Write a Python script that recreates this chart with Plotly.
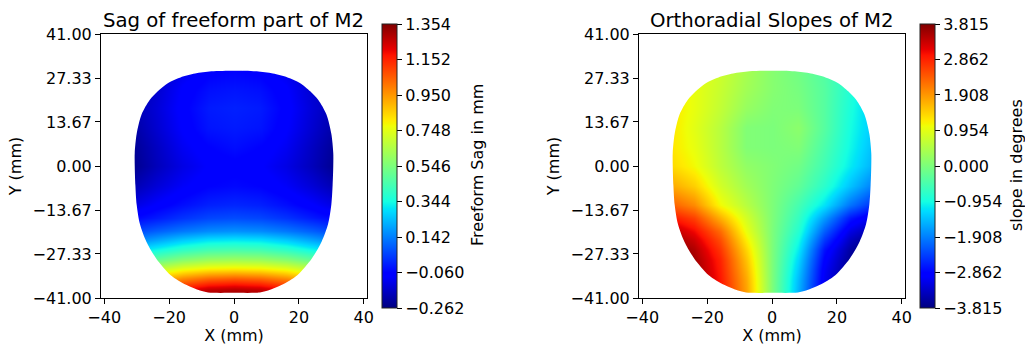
import numpy as np
import plotly.graph_objects as go

# ---------------- data ----------------
grid_x = [-32, -24, -16, -8, 0, 8, 16, 24, 32]
grid_y = [-41, -38, -35, -32, -29, -26, -23, -20, -16, -12, -6, 0, 6, 12, 18, 24, 30]

sag_mm = [
    [1.00, 1.15, 1.28, 1.33, 1.35, 1.33, 1.28, 1.15, 1.00],
    [0.95, 1.05, 1.18, 1.25, 1.27, 1.25, 1.18, 1.05, 0.95],
    [0.80, 0.88, 0.98, 1.04, 1.06, 1.04, 0.98, 0.88, 0.80],
    [0.60, 0.68, 0.76, 0.80, 0.81, 0.80, 0.76, 0.68, 0.60],
    [0.42, 0.50, 0.57, 0.61, 0.62, 0.61, 0.57, 0.50, 0.42],
    [0.28, 0.34, 0.40, 0.44, 0.45, 0.44, 0.40, 0.34, 0.28],
    [0.14, 0.20, 0.26, 0.30, 0.31, 0.30, 0.26, 0.20, 0.14],
    [0.04, 0.09, 0.13, 0.16, 0.17, 0.16, 0.13, 0.09, 0.04],
    [-0.06, -0.02, 0.02, 0.05, 0.06, 0.05, 0.02, -0.02, -0.06],
    [-0.13, -0.08, -0.04, -0.01, 0.00, -0.01, -0.04, -0.08, -0.13],
    [-0.20, -0.14, -0.09, -0.06, -0.05, -0.06, -0.09, -0.14, -0.20],
    [-0.25, -0.18, -0.12, -0.08, -0.07, -0.08, -0.12, -0.18, -0.25],
    [-0.24, -0.17, -0.10, -0.06, -0.04, -0.06, -0.10, -0.17, -0.24],
    [-0.22, -0.15, -0.08, -0.03, -0.02, -0.03, -0.08, -0.15, -0.22],
    [-0.20, -0.14, -0.07, -0.02, -0.01, -0.02, -0.07, -0.14, -0.20],
    [-0.20, -0.15, -0.08, -0.04, -0.03, -0.04, -0.08, -0.15, -0.20],
    [-0.22, -0.17, -0.11, -0.07, -0.06, -0.07, -0.11, -0.17, -0.22],
]

slope_deg = [
    [4.00, 3.70, 3.05, 1.85, 0.00, -1.55, -3.15, -3.80, -4.00],
    [4.00, 3.70, 3.00, 1.80, 0.00, -1.50, -3.10, -3.80, -4.00],
    [4.00, 3.70, 2.95, 1.75, 0.00, -1.45, -3.05, -3.80, -4.00],
    [4.00, 3.65, 2.90, 1.65, 0.00, -1.35, -3.00, -3.75, -4.00],
    [4.00, 3.60, 2.85, 1.55, 0.00, -1.25, -2.90, -3.70, -4.00],
    [3.90, 3.50, 2.70, 1.40, 0.00, -1.10, -2.75, -3.60, -4.00],
    [3.70, 3.30, 2.50, 1.20, 0.00, -0.95, -2.45, -3.40, -3.90],
    [3.50, 3.05, 2.25, 1.00, 0.00, -0.80, -2.15, -3.15, -3.60],
    [3.00, 2.60, 1.70, 0.80, 0.02, -0.65, -1.70, -2.70, -3.20],
    [2.40, 2.00, 1.10, 0.55, 0.02, -0.50, -1.15, -2.00, -2.60],
    [1.80, 1.45, 0.80, 0.35, 0.03, -0.25, -0.75, -1.40, -2.00],
    [1.40, 1.10, 0.60, 0.20, 0.05, -0.10, -0.55, -1.10, -1.60],
    [1.30, 1.00, 0.55, 0.05, 0.00, 0.05, -0.45, -1.00, -1.50],
    [1.30, 0.95, 0.55, 0.05, 0.00, 0.15, -0.35, -0.95, -1.40],
    [1.30, 1.00, 0.65, 0.25, 0.05, 0.00, -0.35, -0.90, -1.40],
    [1.30, 1.00, 0.70, 0.35, 0.10, -0.05, -0.35, -0.85, -1.40],
    [1.30, 1.00, 0.75, 0.40, 0.10, -0.10, -0.40, -0.85, -1.40],
]

# aperture outline of M2 (clockwise, starting at top centre)
outline_x = [0, 7, 12, 16.5, 20.3, 23.5, 26, 28.5, 30, 30.6, 30.6, 30.4, 30, 29, 27, 24,
             19.5, 14.6, 10.5, 8, 0, -8, -10.5, -14.6, -19.5, -24, -27, -29, -30, -30.4,
             -30.6, -30.6, -30, -28.5, -26, -23.5, -20.3, -16.5, -12, -7]
outline_y = [29.6, 29.4, 28.7, 27.5, 25.8, 23.2, 20.5, 16, 10, 4, 0, -6, -12, -18, -23.5, -28.7,
             -33.9, -37, -38.7, -39.3, -39.4, -39.3, -38.7, -37, -33.9, -28.7, -23.5, -18, -12, -6,
             0, 4, 10, 16, 20.5, 23.2, 25.8, 27.5, 28.7, 29.4]

axis_ticks_x = [-40, -20, 0, 20, 40]
axis_ticks_y = [-41.0, -27.33, -13.67, 0.0, 13.67, 27.33, 41.0]

sag_range = [-0.262, 1.354]
sag_ticks = [-0.262, -0.060, 0.142, 0.344, 0.546, 0.748, 0.950, 1.152, 1.354]
slope_range = [-3.815, 3.815]
slope_ticks = [-3.815, -2.862, -1.908, -0.954, 0.000, 0.954, 1.908, 2.862, 3.815]

titles = ["Sag of freeform part of M2", "Orthoradial Slopes of M2"]
cbar_titles = ["Freeform Sag in mm", "slope in degrees"]

# ---------------- style ----------------
W, H = 1025, 345
FONT = "DejaVu Sans"
FS = 16
FS_TITLE = 19.7


def mpl_jet():
    r = [(0, 0), (0.35, 0), (0.66, 1), (0.89, 1), (1, 0.5)]
    g = [(0, 0), (0.125, 0), (0.375, 1), (0.64, 1), (0.91, 0), (1, 0)]
    b = [(0, 0.5), (0.11, 1), (0.34, 1), (0.65, 0), (1, 0)]
    stops = sorted(set([p[0] for p in r + g + b]))
    cs = []
    for s in stops:
        cr = np.interp(s, [p[0] for p in r], [p[1] for p in r])
        cg = np.interp(s, [p[0] for p in g], [p[1] for p in g])
        cb = np.interp(s, [p[0] for p in b], [p[1] for p in b])
        cs.append([s, "rgb(%d,%d,%d)" % (round(cr * 255), round(cg * 255), round(cb * 255))])
    return cs


JET = mpl_jet()


def fmt(v, nd):
    s = ("%." + str(nd) + "f") % abs(v)
    return ("\u2212" + s) if v < 0 else s


def px_x(p):
    return p / W


def px_y(p):
    return (H - p) / H


xdom1 = [px_x(101), px_x(367)]
xdom2 = [px_x(639), px_x(905)]
ydom = [px_y(298), px_y(34)]
axis_range = [-41, 41]

fig = go.Figure()

panels = [
    dict(z=sag_mm, rng=sag_range, ticks=sag_ticks, xa="x", ya="y", cbx=382, dom=xdom1),
    dict(z=slope_deg, rng=slope_range, ticks=slope_ticks, xa="x2", ya="y2", cbx=920, dom=xdom2),
]

# outer box of the white mask (counter-clockwise, with extra points on each side)
big = 80
box_x = [-big, 0, big, big, big, 0, -big, -big, -big]
box_y = [-big, -big, -big, 0, big, big, big, 0, -big]

for i, p in enumerate(panels):
    fig.add_trace(go.Heatmap(
        x=grid_x, y=grid_y, z=p["z"], xaxis=p["xa"], yaxis=p["ya"],
        zmin=p["rng"][0], zmax=p["rng"][1], colorscale=JET, zsmooth="best",
        hoverinfo="skip",
        colorbar=dict(
            x=px_x(p["cbx"]), xanchor="left", xpad=0, ypad=0,
            y=px_y(308), yanchor="bottom", len=284 / H, lenmode="fraction",
            thickness=15, thicknessmode="pixels",
            outlinewidth=1, outlinecolor="#222",
            tickmode="array", tickvals=p["ticks"], ticktext=[fmt(t, 3) for t in p["ticks"]],
            ticks="outside", ticklen=5, tickwidth=1, tickcolor="black",
            tickfont=dict(family=FONT, size=FS, color="black"),
        ),
    ))
    # white mask outside the aperture outline
    mx = box_x + [None] + outline_x + [outline_x[0]]
    my = box_y + [None] + outline_y + [outline_y[0]]
    fig.add_trace(go.Scatter(
        x=mx, y=my, xaxis=p["xa"], yaxis=p["ya"], mode="lines", fill="toself",
        fillcolor="white", line=dict(width=0, color="white", shape="spline", smoothing=0.8),
        hoverinfo="skip", showlegend=False,
    ))

axis_common = dict(
    range=axis_range, showline=True, mirror=True, linecolor="black", linewidth=1,
    ticks="outside", ticklen=5, tickwidth=1, tickcolor="black",
    showgrid=False, zeroline=False,
    tickfont=dict(family=FONT, size=FS, color="black"),
)

for i, p in enumerate(panels):
    sfx = "" if i == 0 else "2"
    fig.layout["xaxis" + sfx] = dict(
        axis_common, domain=p["dom"], anchor="y" + sfx,
        tickmode="array", tickvals=axis_ticks_x, ticktext=[fmt(t, 0) for t in axis_ticks_x],
        title=dict(text="X (mm)", font=dict(family=FONT, size=FS, color="black"), standoff=0),
    )
    fig.layout["yaxis" + sfx] = dict(
        axis_common, domain=ydom, anchor="x" + sfx,
        tickmode="array", tickvals=axis_ticks_y, ticktext=[fmt(t, 2) for t in axis_ticks_y],
        title=dict(text="Y (mm)", font=dict(family=FONT, size=FS, color="black"), standoff=6),
    )

annotations = []
for i, p in enumerate(panels):
    annotations.append(dict(
        text=titles[i], xref="paper", yref="paper",
        x=(p["dom"][0] + p["dom"][1]) / 2, y=px_y(20), xanchor="center", yanchor="middle",
        showarrow=False, font=dict(family=FONT, size=FS_TITLE, color="black"),
    ))
annotations.append(dict(
    text=cbar_titles[0], xref="paper", yref="paper", x=px_x(477), y=px_y(165),
    xanchor="center", yanchor="middle", textangle=-90, showarrow=False,
    font=dict(family=FONT, size=FS, color="black"),
))
annotations.append(dict(
    text=cbar_titles[1], xref="paper", yref="paper", x=px_x(1016), y=px_y(165),
    xanchor="center", yanchor="middle", textangle=-90, showarrow=False,
    font=dict(family=FONT, size=FS, color="black"),
))

fig.update_layout(
    width=W, height=H,
    margin=dict(l=0, r=0, t=0, b=0, autoexpand=False),
    paper_bgcolor="white", plot_bgcolor="white",
    showlegend=False, annotations=annotations,
    font=dict(family=FONT, size=FS, color="black"),
)

fig.write_html("out.html", config={"displayModeBar": False},
               post_script="document.body.style.margin='0px';")
